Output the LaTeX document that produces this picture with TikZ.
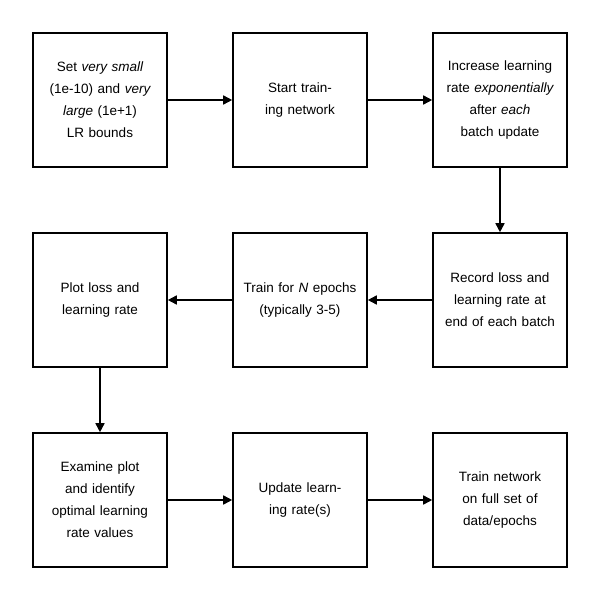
\documentclass[tikz,border=0pt]{standalone}
\usepackage{fontspec}
\setmainfont{Liberation Sans}
\usetikzlibrary{arrows.meta}
\begin{document}
\begin{tikzpicture}[x=1pt,y=-1pt,
  box/.style={draw,line width=1.6pt,minimum width=134pt,minimum height=134pt,text width=114pt,align=center,font=\fontsize{13.5}{22}\selectfont,inner sep=0pt},
  arr/.style={line width=1.6pt,-{Triangle[length=9pt,width=9pt]}}]
\useasboundingbox (0,0) rectangle (600,600);
\node[box] (a) at (100,100) {Set \textit{very small} (1e-10) and \textit{very large} (1e+1) LR bounds};
\node[box] (b) at (300,100) {Start training network};
\node[box] (c) at (500,100) {Increase learning rate \textit{exponentially} after \textit{each} batch update};
\node[box] (d) at (500,300) {Record loss and learning rate at end of each batch};
\node[box] (e) at (300,300) {Train for \textit{N} epochs\\(typically 3-5)};
\node[box] (f) at (100,300) {Plot loss and learning rate};
\node[box] (g) at (100,500) {Examine plot and identify optimal learning rate values};
\node[box] (h) at (300,500) {Update learning rate(s)};
\node[box] (i) at (500,500) {Train network on full set of data/epochs};
\draw[arr] (a) -- (b);
\draw[arr] (b) -- (c);
\draw[arr] (c) -- (d);
\draw[arr] (d) -- (e);
\draw[arr] (e) -- (f);
\draw[arr] (f) -- (g);
\draw[arr] (g) -- (h);
\draw[arr] (h) -- (i);
\end{tikzpicture}
\end{document}
